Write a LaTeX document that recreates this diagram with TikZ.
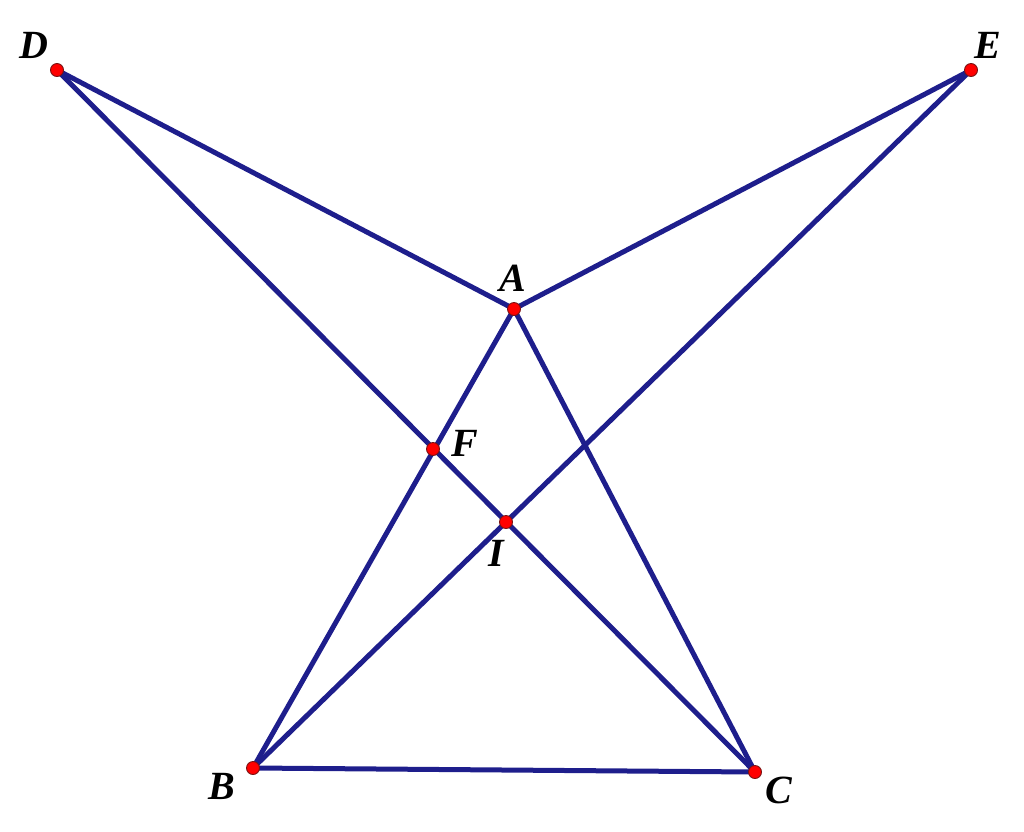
\documentclass[tikz,border=0pt]{standalone}
\usepackage{fontspec}
\setmainfont{Liberation Serif}
\begin{document}
\begin{tikzpicture}[x=1pt,y=-1pt,
  seg/.style={draw={rgb,255:red,30;green,30;blue,140},line width=5pt,line cap=round},
  pt/.style={circle,fill=red,draw={rgb,255:red,120;green,20;blue,20},line width=0.9pt,inner sep=0pt,minimum size=13pt},
  lbl/.style={font=\fontsize{40}{46}\selectfont\bfseries\itshape,inner sep=0pt}]
\useasboundingbox (0,0) rectangle (1024,831);
\coordinate (D) at (57,70);
\coordinate (E) at (971,70);
\coordinate (A) at (514,309);
\coordinate (F) at (433,449);
\coordinate (I) at (506,522);
\coordinate (B) at (253,768);
\coordinate (C) at (755,772);
\draw[seg] (D) -- (A) -- (E);
\draw[seg] (D) -- (C);
\draw[seg] (E) -- (B);
\draw[seg] (A) -- (B) -- (C) -- (A);
\foreach \p in {D,E,A,F,I,B,C} \node[pt] (n\p) at (\p) {};
\node[lbl] (lD) at (34,45) {D};
\node[lbl] (lE) at (988,45) {E};
\node[lbl] (lA) at (513,278) {A};
\node[lbl] (lF) at (465,443) {F};
\node[lbl] (lI) at (496,553) {I};
\node[lbl] (lB) at (222,786) {B};
\node[lbl] (lC) at (779,790) {C};
\end{tikzpicture}
\end{document}
